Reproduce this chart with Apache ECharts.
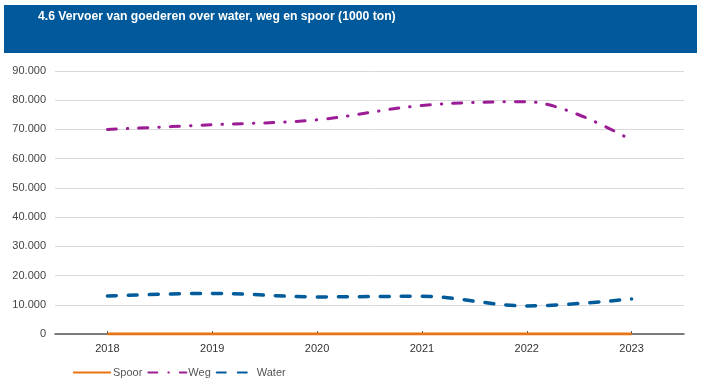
<!DOCTYPE html>
<html>
<head>
<meta charset="utf-8">
<script src="https://cdn.jsdelivr.net/npm/echarts@6/dist/echarts.min.js"></script>
<style>
html,body{margin:0;padding:0;background:#fff;}
#chart{width:704px;height:383px;}
</style>
</head>
<body>
<div id="chart"></div>
<script>
const titleText = '4.6 Vervoer van goederen over water, weg en spoor (1000 ton)';
const years = ['2018', '2019', '2020', '2021', '2022', '2023'];
const spoor = [0, 0, 0, 0, 0, 0];
const weg = [70000, 71600, 73300, 78200, 79500, 66300];
const water = [13000, 13900, 12700, 12900, 9600, 12000];
const yTicks = { min: 0, max: 90000, interval: 10000 };

const chart = echarts.init(document.getElementById('chart'), null, { renderer: 'canvas' });
const fmt = v => v === 0 ? '0' : String(v).replace(/\B(?=(\d{3})+(?!\d))/g, '.');

chart.setOption({
  animation: false,
  backgroundColor: '#ffffff',
  graphic: [
    { type: 'rect', shape: { x: 4, y: 5, width: 693, height: 48 }, style: { fill: '#00599a' }, z: 0 },
    { type: 'text', left: 38, top: 11, style: { text: titleText, fill: '#ffffff', font: 'bold 12.2px "Liberation Sans Narrow", "Liberation Sans", Arial, sans-serif' } }
  ],
  grid: { left: 55, right: 20, top: 71, bottom: 49, containLabel: false },
  legend: {
    left: 72, top: 367, padding: 0,
    itemWidth: 38, itemHeight: 10, itemGap: 5,
    itemStyle: { opacity: 0 },
    textStyle: { color: '#555', fontSize: 11, fontFamily: 'Liberation Sans, Arial, sans-serif', padding: [0, 0, 0, -3] },
    data: ['Spoor', 'Weg', 'Water']
  },
  xAxis: {
    type: 'category', data: years, boundaryGap: true,
    axisLine: { show: true, lineStyle: { color: '#555', width: 1.5 } },
    axisTick: { show: true, alignWithLabel: true, inside: true, length: 3, lineStyle: { color: '#555' } },
    axisLabel: { color: '#333', fontSize: 11, margin: 9, fontFamily: 'Liberation Sans, Arial, sans-serif' },
    splitLine: { show: false }
  },
  yAxis: {
    type: 'value', min: yTicks.min, max: yTicks.max, interval: yTicks.interval,
    axisLine: { show: false }, axisTick: { show: false },
    axisLabel: { color: '#444', fontSize: 11, margin: 9, formatter: fmt, fontFamily: 'Liberation Sans, Arial, sans-serif' },
    splitLine: { lineStyle: { color: '#d9d9d9', width: 1 } }
  },
  series: [
    { name: 'Spoor', type: 'line', data: spoor, smooth: 0.35, symbol: 'none', z: 3,
      lineStyle: { color: '#e87511', width: 3 }, itemStyle: { color: '#e87511' } },
    { name: 'Weg', type: 'line', data: weg, smooth: 0.35, symbol: 'none',
      lineStyle: { color: '#9c1c96', width: 3, type: [9, 11, 0.5, 11], cap: 'round' }, itemStyle: { color: '#9c1c96' } },
    { name: 'Water', type: 'line', data: water, smooth: 0.35, symbol: 'none',
      lineStyle: { color: '#005b9a', width: 3.5, type: [9, 12], cap: 'round' }, itemStyle: { color: '#005b9a' } }
  ]
});
</script>
</body>
</html>
